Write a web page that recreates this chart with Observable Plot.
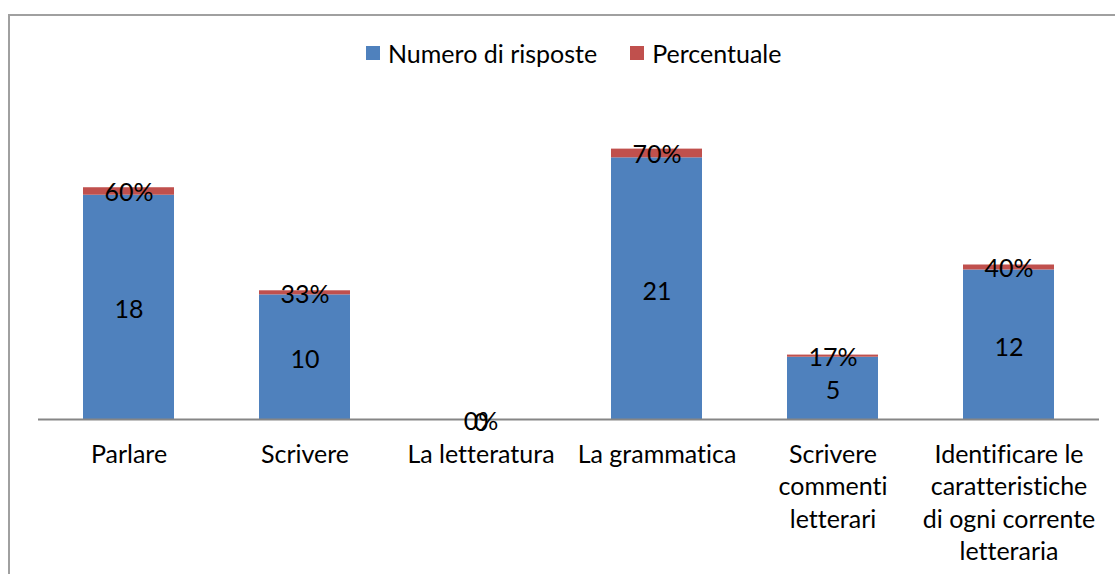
<!DOCTYPE html>
<html>
<head>
<meta charset="utf-8">
<script src="https://cdn.jsdelivr.net/npm/d3@7"></script>
<script src="https://cdn.jsdelivr.net/npm/@observablehq/plot@0.6"></script>
<style>
  html, body { margin: 0; padding: 0; background: #fff; overflow: hidden; }
  #wrap { position: relative; width: 1115px; height: 574px; font-family: Lato, "Open Sans", sans-serif; font-variant-ligatures: none; }
  #frame { position: absolute; left: 8px; top: 14px; width: 1200px; height: 700px; border: 2px solid #a0a0a0; box-sizing: border-box; }
  #legend { position: absolute; left: 366px; top: 38px; display: flex; align-items: center; font-size: 25px; color: #000; white-space: nowrap; }
  #legend .sw { display: inline-block; width: 14px; height: 14px; margin-right: 8px; }
  #legend .item { display: flex; align-items: center; margin-right: 33px; }
  #chart { position: absolute; left: 0; top: 0; }
  #chart svg, #chart svg text { font-variant-ligatures: none; }
</style>
</head>
<body>
<div id="wrap">
  <div id="frame"></div>
  <div id="chart"></div>
  <div id="legend"></div>
</div>
<script>
const categories = [
  "Parlare",
  "Scrivere",
  "La letteratura",
  "La grammatica",
  "Scrivere\ncommenti\nletterari",
  "Identificare le\ncaratteristiche\ndi ogni corrente\nletteraria"
];
const counts = [18, 10, 0, 21, 5, 12];
const percents = [0.60, 0.33, 0, 0.70, 0.17, 0.40];
const seriesNames = ["Numero di risposte", "Percentuale"];
const seriesColors = ["#4F81BD", "#C0504D"];

const rows = categories.flatMap((c, i) => [
  {cat: c, series: seriesNames[0], base: 0, value: counts[i], label: String(counts[i])},
  {cat: c, series: seriesNames[1], base: counts[i], value: percents[i], label: Math.round(percents[i] * 100) + "%"}
]);

const font = "Lato, 'Open Sans', sans-serif";

const chart = Plot.plot({
  width: 1115,
  height: 574,
  marginLeft: 38,
  marginRight: 16,
  marginTop: 107.5,
  marginBottom: 155,
  style: {fontFamily: font, background: "transparent", overflow: "visible"},
  x: {domain: categories, paddingInner: 0.485, paddingOuter: 0.2425, axis: null},
  y: {domain: [0, 25], axis: null},
  color: {domain: seriesNames, range: seriesColors},
  marks: [
    Plot.barY(rows, {x: "cat", y1: "base", y2: d => d.base + d.value, fill: "series"}),
    Plot.ruleY([0], {stroke: "#868686", strokeWidth: 2}),
    Plot.text(rows.filter(d => d.series === seriesNames[0]), {
      x: "cat", y: d => d.base + d.value / 2, text: "label", fontSize: 25, fill: "#000", dy: 3
    }),
    Plot.text(rows.filter(d => d.series === seriesNames[1]), {
      x: "cat", y: d => d.base + d.value / 2, text: "label", fontSize: 25, fill: "#000", dy: 2
    }),
    Plot.text(categories, {x: d => d, y: 0, text: d => d, fontSize: 25, fill: "#000", lineAnchor: "top", dy: 20, lineHeight: 1.3})
  ]
});
document.getElementById("chart").appendChild(chart);

const legend = document.getElementById("legend");
seriesNames.forEach((name, i) => {
  const item = document.createElement("span");
  item.className = "item";
  const sw = document.createElement("span");
  sw.className = "sw";
  sw.style.background = seriesColors[i];
  item.appendChild(sw);
  item.appendChild(document.createTextNode(name));
  legend.appendChild(item);
});
</script>
</body>
</html>
